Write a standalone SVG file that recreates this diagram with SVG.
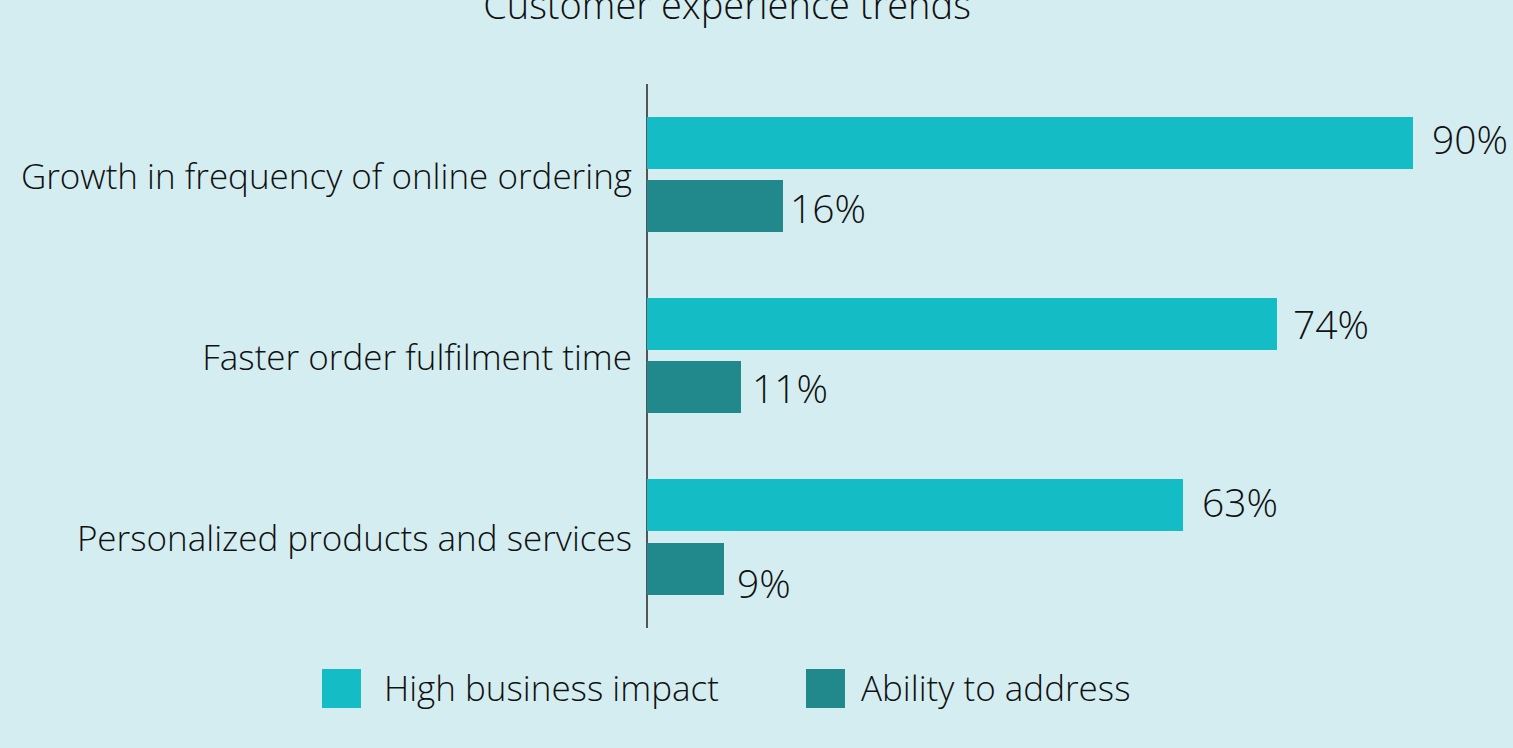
<svg xmlns="http://www.w3.org/2000/svg" width="1513" height="748" viewBox="0 0 1513 748">
<style>
text{font-family:"Open Sans","Noto Sans","Liberation Sans",sans-serif;font-weight:300;fill:#111;}
.num{font-size:39px;}
.leg{font-size:35px;}
.cat{font-size:35px;text-anchor:end;}
.hi{fill:#14BCC6;}
.ab{fill:#21898B;}
</style>
<rect width="1513" height="748" fill="#D4EDF0"/>
<text x="727" y="19" font-size="38" text-anchor="middle">Customer experience trends</text>
<g id="axis"><line x1="647" y1="84" x2="647" y2="628" stroke="#555" stroke-width="2"/></g>
<g id="cat1">
<text x="632" y="189" class="cat">Growth in frequency of online ordering</text>
<rect class="hi" x="647" y="117" width="766" height="52"/>
<text x="1432" y="154" class="num">90%</text>
<rect class="ab" x="647" y="180" width="136" height="52"/>
<text x="790" y="223" class="num">16%</text>
</g>
<g id="cat2">
<text x="632" y="370" class="cat">Faster order fulfilment time</text>
<rect class="hi" x="647" y="298" width="630" height="52"/>
<text x="1293" y="339" class="num">74%</text>
<rect class="ab" x="647" y="361" width="94" height="52"/>
<text x="752" y="403" class="num">11%</text>
</g>
<g id="cat3">
<text x="632" y="551" class="cat">Personalized products and services</text>
<rect class="hi" x="647" y="479" width="536" height="52"/>
<text x="1202" y="517" class="num">63%</text>
<rect class="ab" x="647" y="543" width="77" height="52"/>
<text x="737" y="598" class="num">9%</text>
</g>
<g id="legend">
<rect class="hi" x="322" y="669" width="39" height="39"/>
<text x="384" y="701" class="leg">High business impact</text>
<rect class="ab" x="806" y="669" width="39" height="39"/>
<text x="861" y="701" class="leg">Ability to address</text>
</g>
</svg>
